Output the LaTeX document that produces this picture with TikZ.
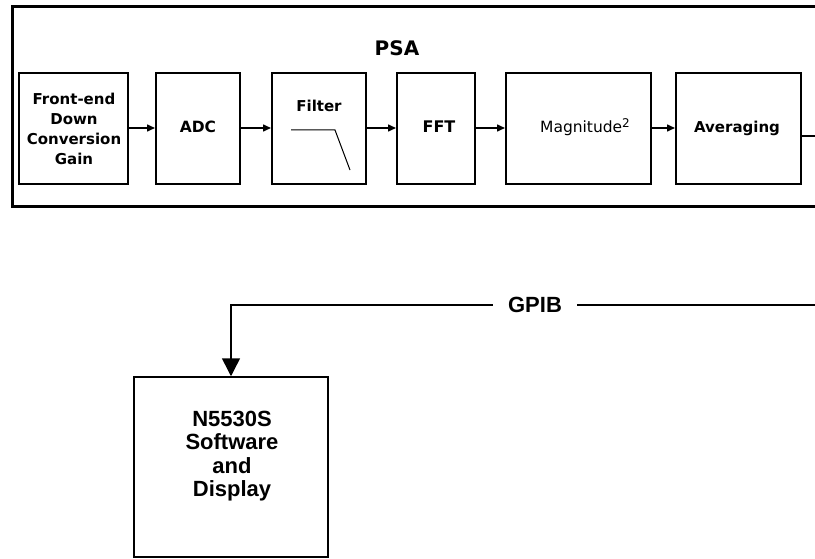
\documentclass[tikz,border=0pt]{standalone}
\usepackage{fontspec}
\setmainfont{DejaVu Sans}
\newfontfamily\lsans{Liberation Sans}
\usetikzlibrary{arrows.meta}
\tikzset{
  blk/.style={draw, line width=2pt, minimum width=#1, minimum height=111pt, inner sep=0pt},
  toptxt/.style={font=\fontsize{15}{20}\selectfont\bfseries, align=center, inner sep=0pt},
  sarrow/.style={line width=1.5pt, -{Triangle[length=8pt,width=7pt]}},
  botxt/.style={font=\lsans\fontsize{22}{23.5}\selectfont\bfseries, align=center, inner sep=0pt},
}
\begin{document}
\begin{tikzpicture}[x=1pt,y=-1pt]
\clip (0,0) rectangle (815,559);
\fill[white] (0,0) rectangle (815,559);
% PSA outer box
\draw[line width=3pt] (12,7) rectangle (840,207);
\node[font=\fontsize{20}{22}\selectfont\bfseries, inner sep=0pt] (psa) at (397,48) {PSA};
% blocks
\node[blk=109pt] (fe) at (73.5,128.5) {};
\node[blk=84pt] (adc) at (198,128.5) {};
\node[blk=94pt] (filt) at (319,128.5) {};
\node[blk=78pt] (fft) at (436,128.5) {};
\node[blk=145pt] (mag) at (578.5,128.5) {};
\node[blk=125pt] (avg) at (738.5,128.5) {};
% texts
\node[toptxt] (fet) at (74,129) {Front-end\\Down\\Conversion\\Gain};
\node[toptxt, font=\fontsize{15.5}{18}\selectfont\bfseries] (adct) at (198,127) {ADC};
\node[toptxt, font=\fontsize{15}{18}\selectfont\bfseries] (filtt) at (319,106) {Filter};
\node[toptxt, font=\fontsize{16}{18}\selectfont\bfseries] (fftt) at (439,127) {FFT};
\node[toptxt, font=\fontsize{15.5}{18}\selectfont] (magt) at (585,127) {Magnitude\raisebox{5pt}{\fontsize{12}{12}\selectfont 2}};
\node[toptxt] (avgt) at (737,128) {Averaging};
% filter curve
\coordinate (f1) at (291,130);
\coordinate (f2) at (335,130);
\coordinate (f3) at (350,170);
\draw[line width=1pt] (f1) -- (f2) -- (f3);
% arrows
\draw[sarrow] (fe.east |- 0,128) -- (adc.west |- 0,128);
\draw[sarrow] (adc.east |- 0,128) -- (filt.west |- 0,128);
\draw[sarrow] (filt.east |- 0,128) -- (fft.west |- 0,128);
\draw[sarrow] (fft.east |- 0,128) -- (mag.west |- 0,128);
\draw[sarrow] (mag.east |- 0,128) -- (avg.west |- 0,128);
\coordinate (avgout) at (815,136);
\draw[line width=1.5pt] (avg.east |- avgout) -- (avgout);
% bottom
\node[draw, line width=1.5pt, minimum width=194pt, minimum height=180pt, inner sep=0pt] (sw) at (231,467) {};
\node[botxt] (swt) at (232,456) {N5530S\\Software\\and\\Display};
\node[font=\lsans\fontsize{22}{24}\selectfont\bfseries, inner xsep=15pt, inner ysep=0pt] (gpib) at (535,305) {GPIB};
\coordinate (gpibr) at (815,305);
\draw[line width=1.5pt] (gpibr) -- (gpib.east);
\draw[line width=1.5pt, -{Triangle[length=18pt,width=18pt]}] (gpib.west) -| (sw.north);
\end{tikzpicture}
\end{document}
